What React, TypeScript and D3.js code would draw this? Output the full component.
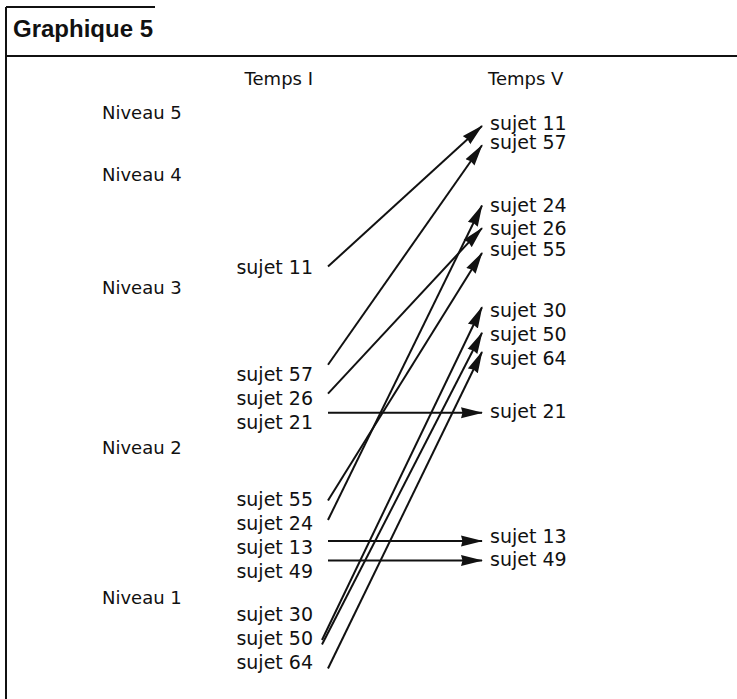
import React, { useEffect, useRef } from "react";
import * as d3 from "d3";

// subjects, and their level at Temps I / Temps V (arrow ends), label levels
const subjects = ["11", "57", "26", "21", "55", "24", "13", "49", "30", "50", "64"];
const startLevel = [3.19, 2.52, 2.34, 2.22, 1.65, 1.52, 1.38, 1.25, 0.72, 0.69, 0.53];
const endLevel = [4.79, 4.48, 3.53, 2.22, 3.31, 3.73, 1.38, 1.25, 2.88, 2.72, 2.6];
const labelLevelI = [3.18, 2.46, 2.31, 2.16, 1.66, 1.5, 1.34, 1.18, 0.89, 0.73, 0.57];
const labelLevelV = [4.84, 4.52, 3.53, 2.23, 3.34, 3.73, 1.41, 1.26, 2.86, 2.71, 2.56];

const levels = [1, 2, 3, 4, 5];
const times = ["Temps I", "Temps V"];
const title = "Graphique 5";

const App: React.FC = () => {
  const svgRef = useRef<SVGSVGElement | null>(null);

  useEffect(() => {
    const width = 737;
    const height = 699;
    const font = "'DejaVu Sans', sans-serif";

    const svg = d3
      .select(svgRef.current)
      .attr("width", width)
      .attr("height", height)
      .attr("viewBox", [0, 0, width, height]);
    svg.selectAll("*").remove();

    // levels are not evenly spaced in the original
    const y = d3
      .scaleLinear()
      .domain(levels)
      .range([598, 448, 288, 175, 113]);

    const x = d3.scalePoint().domain(times).range([320, 486]);
    const x0 = x("Temps I") as number;
    const x1 = x("Temps V") as number;

    // frame
    svg
      .append("path")
      .attr("d", `M6,7H155M6,7V${height}M6,56H${width}`)
      .attr("fill", "none")
      .attr("stroke", "#111")
      .attr("stroke-width", 2);

    svg
      .append("text")
      .attr("x", 13)
      .attr("y", 37)
      .attr("font-family", "'Liberation Sans', Arial, sans-serif")
      .attr("font-weight", "bold")
      .attr("font-size", 24)
      .attr("fill", "#111")
      .text(title);

    // column headers
    svg
      .selectAll(".head")
      .data(times)
      .enter()
      .append("text")
      .attr("class", "head")
      .attr("x", (d, i) => (i === 0 ? x0 - 7 : x1 + 2))
      .attr("y", 79)
      .attr("dy", "0.35em")
      .attr("text-anchor", (d, i) => (i === 0 ? "end" : "start"))
      .attr("font-family", font)
      .attr("font-size", 18)
      .attr("fill", "#111")
      .text((d) => d);

    // level labels
    svg
      .selectAll(".niveau")
      .data(levels)
      .enter()
      .append("text")
      .attr("class", "niveau")
      .attr("x", 102)
      .attr("y", (d) => y(d))
      .attr("dy", "0.35em")
      .attr("font-family", font)
      .attr("font-size", 18)
      .attr("fill", "#111")
      .text((d) => `Niveau ${d}`);

    const defs = svg.append("defs");
    defs
      .append("marker")
      .attr("id", "arrowhead")
      .attr("viewBox", "0 0 22 12")
      .attr("refX", 21)
      .attr("refY", 6)
      .attr("markerWidth", 22)
      .attr("markerHeight", 12)
      .attr("markerUnits", "userSpaceOnUse")
      .attr("orient", "auto")
      .append("path")
      .attr("d", "M0,0.5L22,6L0,11.5L1.5,6Z")
      .attr("fill", "#111");

    const idx = d3.range(subjects.length);

    svg
      .selectAll(".arrow")
      .data(idx)
      .enter()
      .append("line")
      .attr("class", "arrow")
      .attr("x1", (i) => (i >= 8 && i <= 9 ? x0 + 2 : x0 + 8))
      .attr("y1", (i) => y(startLevel[i]))
      .attr("x2", x1 - 4)
      .attr("y2", (i) => y(endLevel[i]))
      .attr("stroke", "#111")
      .attr("stroke-width", 2)
      .attr("marker-end", "url(#arrowhead)");

    svg
      .selectAll(".labI")
      .data(idx)
      .enter()
      .append("text")
      .attr("class", "labI")
      .attr("x", x0 - 7)
      .attr("y", (i) => y(labelLevelI[i]))
      .attr("dy", "0.35em")
      .attr("text-anchor", "end")
      .attr("font-family", font)
      .attr("font-size", 19)
      .attr("fill", "#111")
      .text((i) => `sujet ${subjects[i]}`);

    svg
      .selectAll(".labV")
      .data(idx)
      .enter()
      .append("text")
      .attr("class", "labV")
      .attr("x", x1 + 4)
      .attr("y", (i) => y(labelLevelV[i]))
      .attr("dy", "0.35em")
      .attr("font-family", font)
      .attr("font-size", 19)
      .attr("fill", "#111")
      .text((i) => `sujet ${subjects[i]}`);
  }, []);

  return (
    <svg
      ref={svgRef}
      style={{ position: "absolute", left: 0, top: 0, background: "#fff" }}
    ></svg>
  );
};

export default App;
